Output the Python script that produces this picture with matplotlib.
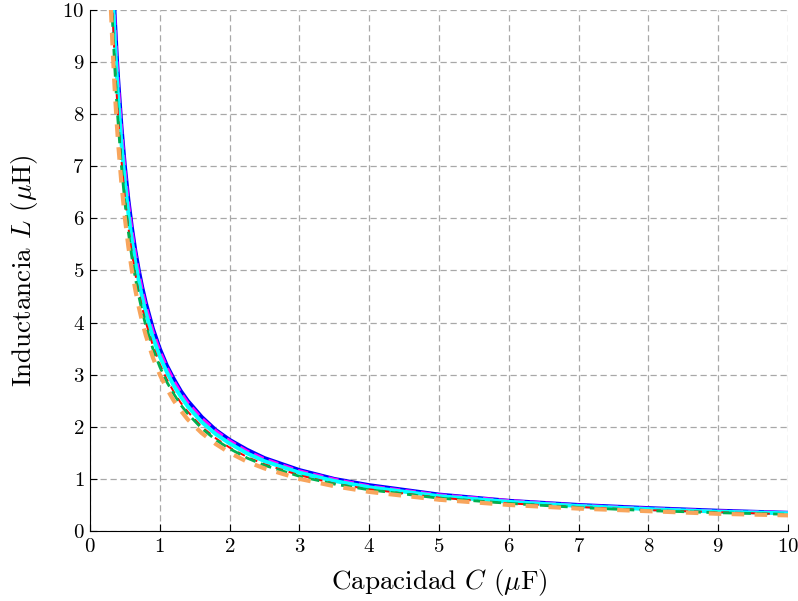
import matplotlib
matplotlib.use("Agg")
import matplotlib.pyplot as plt

plt.rcParams['font.family'] = 'serif'
plt.rcParams['font.serif'] = ['cmr10', 'DejaVu Serif']
plt.rcParams['mathtext.fontset'] = 'cm'
plt.rcParams['axes.formatter.use_mathtext'] = True

# Capacitance values (uF) and read-off inductances (uH) for each curve
C = [0.3, 0.32, 0.35, 0.38, 0.4, 0.45, 0.5, 0.55, 0.6, 0.65, 0.7, 0.75, 0.8, 0.9, 1.0,
     1.1, 1.2, 1.3, 1.4, 1.6, 1.8, 2.0, 2.25, 2.5, 3, 3.5, 4, 5, 6, 7, 8, 9, 10]

L_blue = [11.67, 10.94, 10.0, 9.21, 8.75, 7.78, 7.0, 6.36, 5.83, 5.38, 5.0, 4.67, 4.38,
          3.89, 3.5, 3.18, 2.92, 2.69, 2.5, 2.19, 1.94, 1.75, 1.56, 1.4, 1.17, 1.0,
          0.88, 0.7, 0.58, 0.5, 0.44, 0.39, 0.35]
L_magenta = [11.5, 10.78, 9.86, 9.08, 8.63, 7.67, 6.9, 6.27, 5.75, 5.31, 4.93, 4.6, 4.31,
             3.83, 3.45, 3.14, 2.88, 2.65, 2.46, 2.16, 1.92, 1.73, 1.53, 1.38, 1.15, 0.99,
             0.86, 0.69, 0.58, 0.49, 0.43, 0.38, 0.35]
L_cyan = [11.17, 10.47, 9.57, 8.82, 8.38, 7.44, 6.7, 6.09, 5.58, 5.15, 4.79, 4.47, 4.19,
          3.72, 3.35, 3.05, 2.79, 2.58, 2.39, 2.09, 1.86, 1.68, 1.49, 1.34, 1.12, 0.96,
          0.84, 0.67, 0.56, 0.48, 0.42, 0.37, 0.34]
L_red = [10.67, 10.0, 9.14, 8.42, 8.0, 7.11, 6.4, 5.82, 5.33, 4.92, 4.57, 4.27, 4.0,
         3.56, 3.2, 2.91, 2.67, 2.46, 2.29, 2.0, 1.78, 1.6, 1.42, 1.28, 1.07, 0.91,
         0.8, 0.64, 0.53, 0.46, 0.4, 0.36, 0.32]
L_green = [10.5, 9.84, 9.0, 8.29, 7.88, 7.0, 6.3, 5.73, 5.25, 4.85, 4.5, 4.2, 3.94,
           3.5, 3.15, 2.86, 2.63, 2.42, 2.25, 1.97, 1.75, 1.58, 1.4, 1.26, 1.05, 0.9,
           0.79, 0.63, 0.53, 0.45, 0.39, 0.35, 0.32]
L_orange = [10.0, 9.38, 8.57, 7.89, 7.5, 6.67, 6.0, 5.45, 5.0, 4.62, 4.29, 4.0, 3.75,
            3.33, 3.0, 2.73, 2.5, 2.31, 2.14, 1.88, 1.67, 1.5, 1.33, 1.2, 1.0, 0.86,
            0.75, 0.6, 0.5, 0.43, 0.38, 0.33, 0.3]

ticks = list(range(0, 11))

fig = plt.figure(figsize=(7.98, 6.01), dpi=100)
ax = fig.add_axes([0.1128, 0.1165, 0.8747, 0.867])

ax.plot(C, L_blue, color='#0000ff', lw=2.8, ls='-')
ax.plot(C, L_magenta, color='#ff00ff', lw=2.5, ls=(0, (3, 1.5)))
ax.plot(C, L_cyan, color='#00ffff', lw=2.8, ls='-')
ax.plot(C, L_red, color='#ff0000', lw=1.4, ls=(0, (4, 3)))
ax.plot(C, L_green, color='#00b050', lw=2.0, ls=(0, (4, 2)))
ax.plot(C, L_orange, color='#f8a55c', lw=3.0, ls=(0, (3, 2.5)))

ax.set_xlim(0, 10)
ax.set_ylim(0, 10)
ax.set_xticks(ticks)
ax.set_yticks(ticks)
ax.grid(True, color='#a8a8a8', ls=(0, (5, 3)), lw=0.9)
ax.spines['top'].set_visible(False)
ax.spines['right'].set_visible(False)
ax.tick_params(direction='in', length=5, labelsize=15, top=False, right=False)
ax.tick_params(axis='y', pad=4)
ax.tick_params(axis='x', pad=5)
ax.set_xlabel(r'Capacidad $C$ ($\mu$F)', fontsize=19.5, labelpad=8)
ax.set_ylabel(r'Inductancia $L$ ($\mu$H)', fontsize=19.5, labelpad=16)

fig.savefig("out.png", dpi=100)
